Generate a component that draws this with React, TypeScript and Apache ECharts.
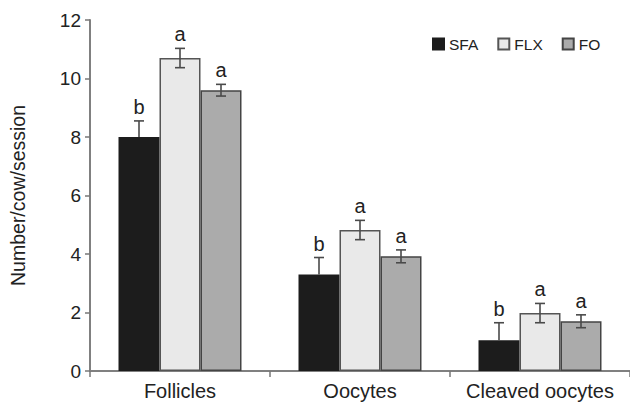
import React, { useEffect, useRef } from "react";
import * as echarts from "echarts";

const categories = ["Follicles", "Oocytes", "Cleaved oocytes"];
const seriesNames = ["SFA", "FLX", "FO"];
const sfaValues = [8.0, 3.3, 1.05];
const flxValues = [10.7, 4.82, 1.98];
const foValues = [9.6, 3.92, 1.7];
const sfaErr = [0.55, 0.58, 0.6];
const flxErr = [0.33, 0.33, 0.33];
const foErr = [0.2, 0.22, 0.22];
const sfaLetters = ["b", "b", "b"];
const flxLetters = ["a", "a", "a"];
const foLetters = ["a", "a", "a"];
const yTicks = [0, 2, 4, 6, 8, 10, 12];

const FONT = "'Liberation Sans', Arial, Helvetica, sans-serif";
const BAR_W = 41;

export default function App() {
  const ref = useRef<HTMLDivElement>(null);
  useEffect(() => {
    if (!ref.current) return;
    const chart = echarts.init(ref.current, undefined, { renderer: "svg" });
    const values = [sfaValues, flxValues, foValues];
    const errs = [sfaErr, flxErr, foErr];
    const letters = [sfaLetters, flxLetters, foLetters];
    const colors = ["#1c1c1c", "#e9e9e9", "#ababab"];
    const borders = ["#1c1c1c", "#555", "#444"];

    const errData: any[] = [];
    values.forEach((vals, s) => {
      vals.forEach((v, i) => {
        errData.push([i, v, errs[s][i], s, letters[s][i]]);
      });
    });

    const bars = seriesNames.map((name, s) => ({
      name,
      type: "bar",
      data: values[s],
      barWidth: BAR_W,
      barGap: "0%",
      itemStyle: { color: colors[s], borderColor: borders[s], borderWidth: 1.5 },
      z: 2,
    }));

    chart.setOption({
      animation: false,
      backgroundColor: "#ffffff",
      grid: { left: 84, right: -3, top: 20, bottom: 33, containLabel: false },
      legend: {
        data: seriesNames,
        left: 427,
        top: 31,
        icon: "rect",
        itemWidth: 11,
        itemHeight: 11,
        itemGap: 19,
        textStyle: { fontFamily: FONT, fontSize: 15.5, color: "#222" },
      },
      xAxis: {
        type: "category",
        data: categories,
        axisLine: { lineStyle: { color: "#808080", width: 2 } },
        axisTick: { show: true, length: 6, lineStyle: { color: "#777", width: 1.5 } },
        axisLabel: { fontFamily: FONT, fontSize: 20, color: "#222", margin: 10, interval: 0, hideOverlap: false },
      },
      yAxis: {
        type: "value",
        min: 0,
        max: 12,
        interval: 2,
        name: "Number/cow/session",
        nameLocation: "middle",
        nameRotate: 90,
        nameGap: 62,
        nameTextStyle: { fontFamily: FONT, fontSize: 19.5, color: "#222" },
        axisLine: { show: true, lineStyle: { color: "#808080", width: 2 } },
        axisTick: { show: true, length: 5, lineStyle: { color: "#777", width: 1.5 } },
        axisLabel: {
          fontFamily: FONT,
          fontSize: 19,
          color: "#222",
          margin: 9,
          formatter: (v: number) => (yTicks.includes(v) ? String(v) : ""),
        },
        splitLine: { show: false },
      },
      series: [
        ...bars,
        {
          type: "custom",
          name: "errors",
          data: errData,
          encode: { x: 0, y: 1 },
          z: 5,
          renderItem: (params: any, api: any) => {
            const cat = api.value(0);
            const v = api.value(1);
            const e = api.value(2);
            const s = api.value(3);
            const letter = errData[params.dataIndex][4];
            const base = api.coord([cat, v]);
            const x = base[0] + (s - 1) * BAR_W;
            const top = api.coord([cat, v + e])[1];
            const bot = s === 0 ? base[1] : api.coord([cat, v - e])[1];
            const cap = 5;
            const ls = { stroke: "#4a4a4a", lineWidth: 1.6 };
            const children: any[] = [
              { type: "line", shape: { x1: x, y1: top, x2: x, y2: bot }, style: ls },
              { type: "line", shape: { x1: x - cap, y1: top, x2: x + cap, y2: top }, style: ls },
            ];
            if (s !== 0) {
              children.push({ type: "line", shape: { x1: x - cap, y1: bot, x2: x + cap, y2: bot }, style: ls });
            }
            children.push({
              type: "text",
              x,
              y: top - 4,
              style: {
                text: letter,
                fontFamily: FONT,
                fontSize: 20,
                fill: "#222",
                align: "center",
                verticalAlign: "bottom",
              },
            });
            return { type: "group", children };
          },
        },
      ],
    });
    return () => chart.dispose();
  }, []);
  return <div ref={ref} style={{ width: 630, height: 404, position: "absolute", left: 0, top: 0 }} />;
}
